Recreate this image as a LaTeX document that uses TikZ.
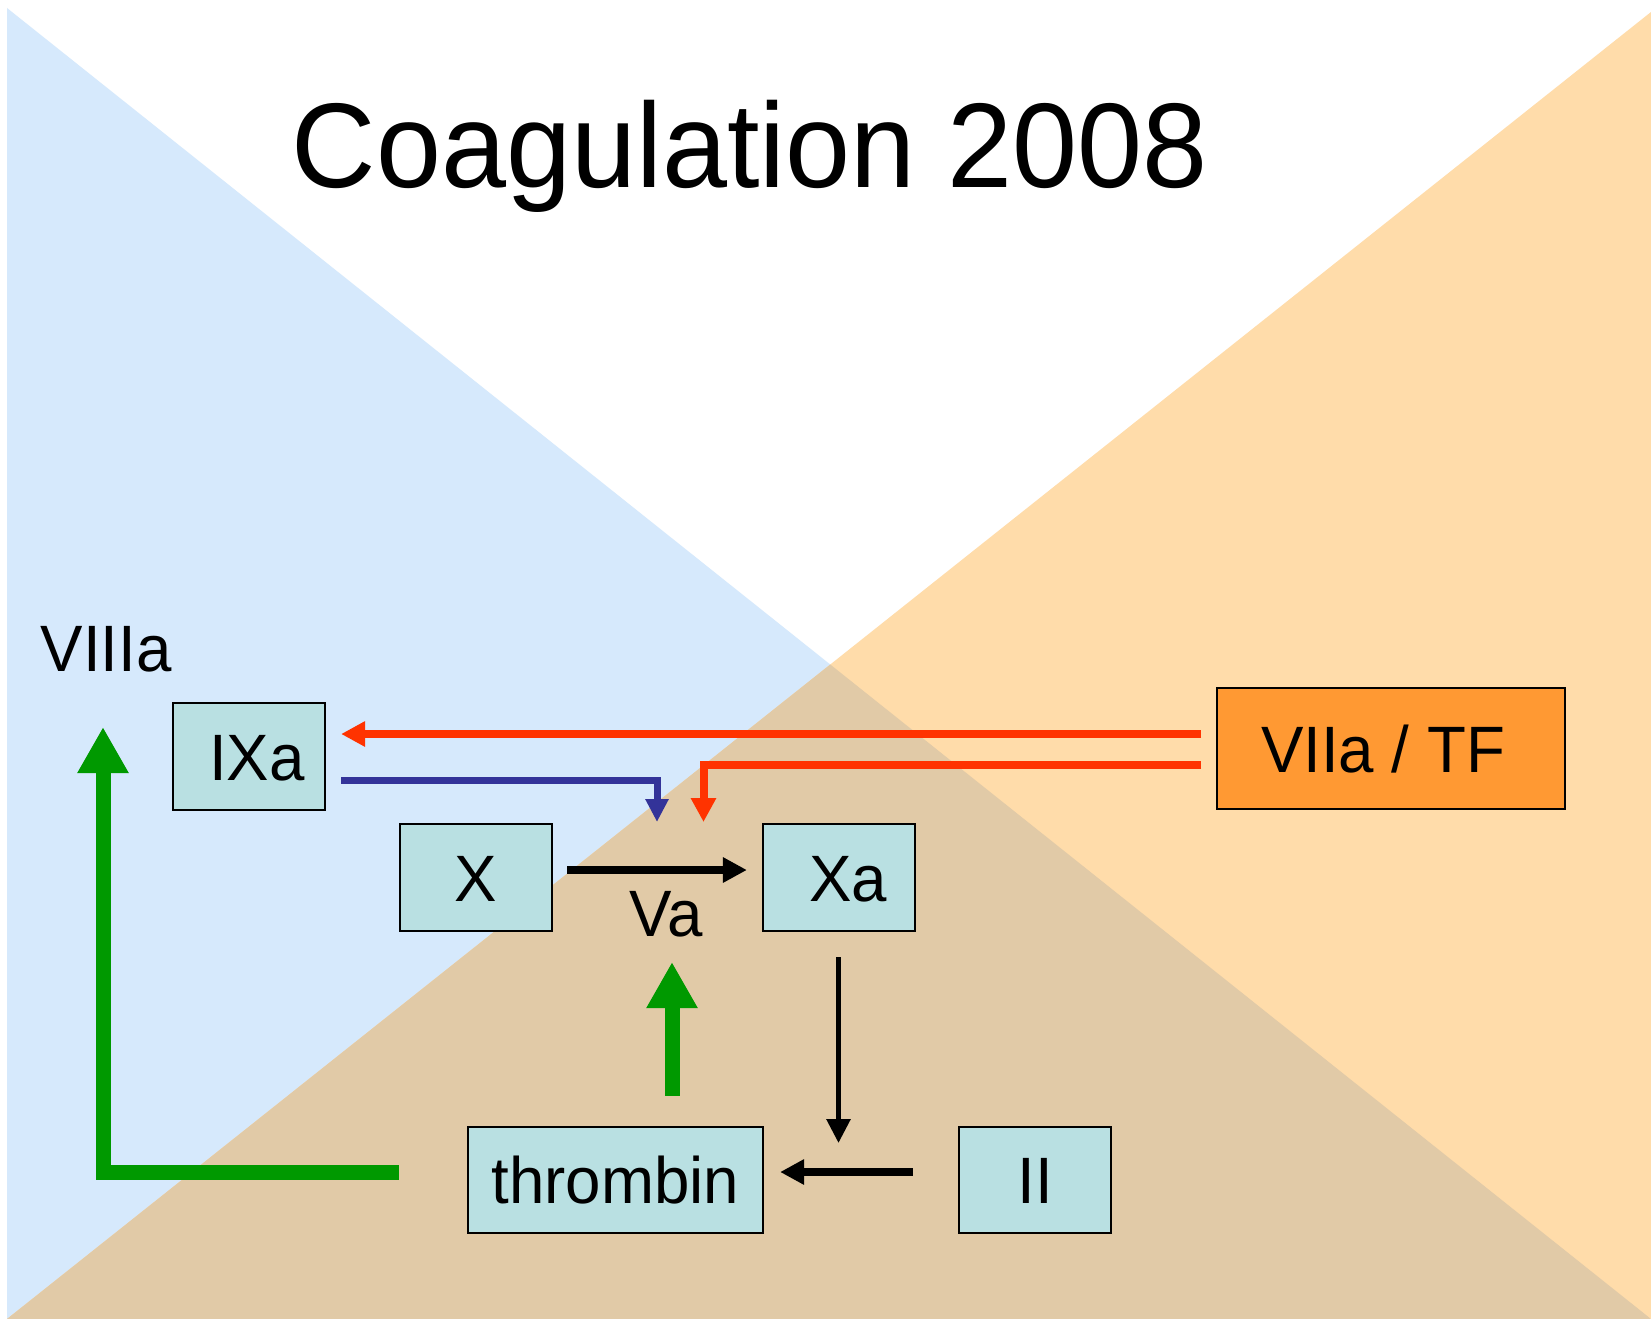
\documentclass[tikz,border=0pt]{standalone}
\usepackage{fontspec}
\setmainfont{Liberation Sans}[FakeStretch=0.97]
\usetikzlibrary{arrows.meta,calc}
\definecolor{bgblue}{RGB}{214,233,252}
\definecolor{bgorange}{RGB}{255,220,170}
\definecolor{bgmix}{RGB}{225,202,167}
\definecolor{boxfill}{RGB}{185,224,226}
\definecolor{tforange}{RGB}{255,153,51}
\definecolor{arrred}{RGB}{255,51,0}
\definecolor{arrblue}{RGB}{51,51,153}
\definecolor{arrgreen}{RGB}{0,153,0}
\newcommand\bigtxt{\fontsize{65.6pt}{70pt}\selectfont}
\newcommand\titletxt{\fontsize{120.5pt}{125pt}\selectfont}
\begin{document}
\begin{tikzpicture}[x=1pt,y=-1pt,
  box/.style={draw=black, line width=2.2pt, fill=boxfill, minimum width=152pt,
    minimum height=107pt, inner sep=0pt, text height=47pt, text depth=0pt, font=\bigtxt},
  lbl/.style={inner sep=0pt, anchor=base, font=\bigtxt},
  redarr/.style={draw=arrred, line width=8pt, -{Triangle[length=24pt,width=24pt]}},
  bluearr/.style={draw=arrblue, line width=7pt, -{Triangle[length=23pt,width=22pt]}},
  blackarr/.style={draw=black, line width=8pt, -{Triangle[length=24pt,width=24pt]}},
  thinarr/.style={draw=black, line width=5.5pt, -{Triangle[length=24pt,width=23pt]}},
  greenarr/.style={draw=arrgreen, line width=15pt, -{Triangle[length=46pt,width=48pt]}}]
\useasboundingbox (0,0) rectangle (1651,1319);
% background
\fill[white] (0,0) rectangle (1651,1319);
\fill[bgblue] (7,8) -- (1651,1319) -- (7,1319) -- cycle;
\fill[bgorange] (1651,12) -- (1651,1319) -- (7,1319) -- cycle;
\begin{scope}
  \clip (7,8) -- (1651,1319) -- (7,1319) -- cycle;
  \fill[bgmix] (1651,12) -- (1651,1319) -- (7,1319) -- cycle;
\end{scope}
% title
\node[inner sep=0pt, anchor=base, font=\titletxt] (title) at (750,187) {Coagulation 2008};
% labels
\node[lbl] (VIIIa) at (106,671) {VIIIa};
\node[lbl] (Va) at (666,936.5) {Va};
% boxes
\node[box] (IXa) at (249,756.5) {\hspace*{16pt}IXa};
\node[box] (X) at (476,877.5) {X};
\node[box] (Xa) at (839,877.5) {\hspace*{18pt}Xa};
\node[box, fill=tforange, minimum width=348.5pt, minimum height=121pt] (VIIa) at (1391,748.5) {VIIa / TF\hspace*{16pt}};
\node[box, minimum width=295pt, minimum height=106pt] (thrombin) at (615.5,1180) {thrombin};
\node[box, minimum height=106pt] (II) at (1035,1180) {II};
% tip coordinates
\coordinate (bluetip) at (657,822);
\coordinate (redtip) at (703.5,822);
% connectors
\draw[redarr] ($(VIIa.west)+(-14.5,-14.5)$) -- ($(IXa.east)+(15,-22.5)$);
\draw[redarr] ($(VIIa.west)+(-14.5,16)$) -| (redtip);
\draw[bluearr] ($(IXa.east)+(15,23.5)$) -| (bluetip);
\draw[blackarr] ($(X.east)+(14,-7.5)$) -- ($(Xa.west)+(-15,-7.5)$);
\draw[thinarr] ($(Xa.south)+(-0.5,25)$) -- ($(Xa.south)+(-0.5,211)$);
\draw[blackarr] ($(II.west)+(-45,-8)$) -- ($(thrombin.east)+(16,-8)$);
\draw[greenarr] ($(thrombin.north)+(56.5,-30)$) -- ($(Va.base)+(6,25.5)$);
\draw[greenarr] ($(thrombin.west)+(-68,-8)$) -| ($(VIIIa.base)+(-3,56)$);
\end{tikzpicture}
\end{document}
